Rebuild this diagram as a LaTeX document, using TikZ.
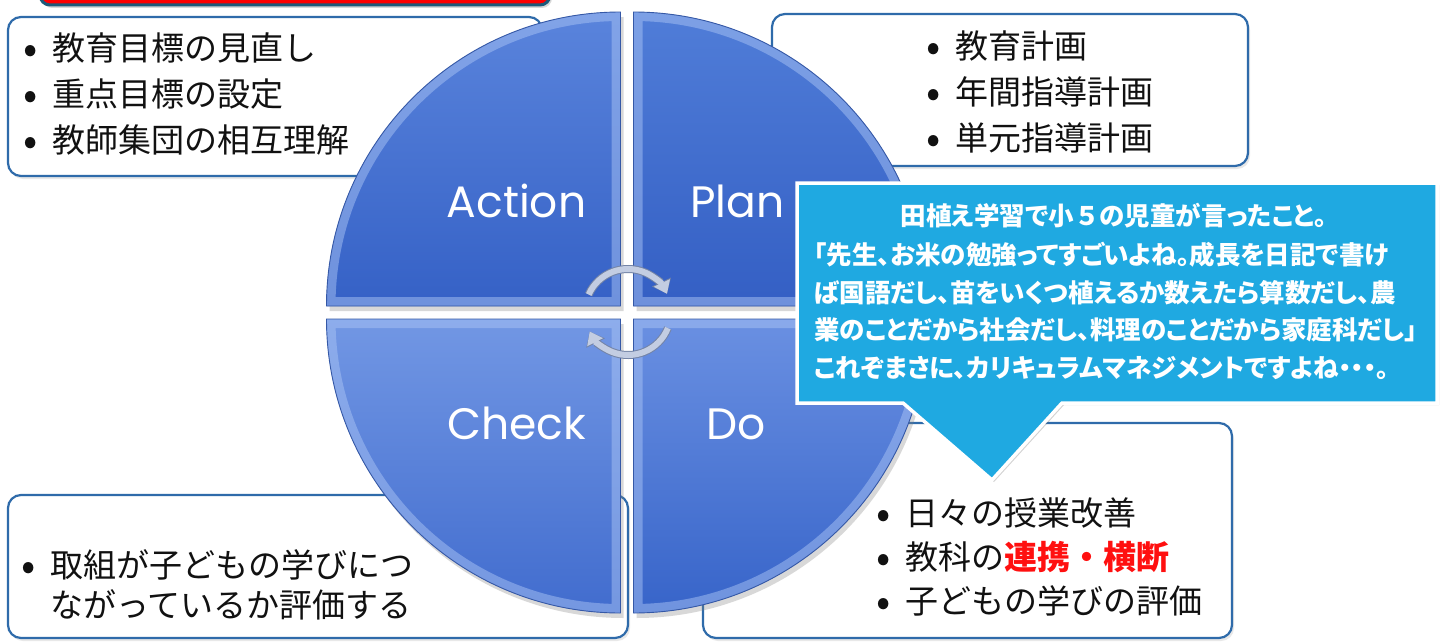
\documentclass[tikz,border=0pt]{standalone}
\usepackage{fontspec}
\newfontfamily\jp{Noto Sans CJK JP}
\newfontfamily\jpp[RawFeature=+palt]{Noto Sans CJK JP}
\newfontfamily\cg{Poppins}
\usetikzlibrary{shadows,arrows.meta}
\definecolor{boxline}{HTML}{2F6BAA}
\definecolor{redfill}{HTML}{FF0000}
\definecolor{redline}{HTML}{1E5A7A}
\definecolor{callfill}{HTML}{1FA9E1}
\definecolor{bevelc}{HTML}{A9C3F4}
\definecolor{qedgec}{HTML}{3558A6}
\definecolor{arrowfill}{HTML}{C3CDE2}
\definecolor{arrowedge}{HTML}{7484A6}
\definecolor{txt}{HTML}{111111}
\definecolor{hired}{HTML}{FF1010}
\definecolor{qAt}{HTML}{5A84DC}\definecolor{qAb}{HTML}{3561C6}
\definecolor{qPt}{HTML}{507DD8}\definecolor{qPb}{HTML}{345FC4}
\definecolor{qDt}{HTML}{6A90E2}\definecolor{qDb}{HTML}{3764C9}
\definecolor{qCt}{HTML}{7297E4}\definecolor{qCb}{HTML}{416CCE}
\newcommand\bul{\makebox[24pt][l]{\hspace*{-5pt}\raisebox{-3.5pt}{\fontsize{42}{42}\selectfont •}}}
\newcommand\quadrant[5]{%
  \path[qshadow, top color=#4, bottom color=#5] (#1) -- ++(#2) arc[start angle=#3, delta angle=90, radius=294] -- cycle;
  \begin{scope}
    \clip (#1) -- ++(#2) arc[start angle=#3, delta angle=90, radius=294] -- cycle;
    \draw[bevel] (#1) -- ++(#2) arc[start angle=#3, delta angle=90, radius=294] -- cycle;
  \end{scope}
  \draw[qedge] (#1) -- ++(#2) arc[start angle=#3, delta angle=90, radius=294] -- cycle;
}
\begin{document}
\begin{tikzpicture}[x=1pt,y=-1pt,
  infobox/.style={draw=boxline, line width=2.2pt, fill=white, rounded corners=13pt,
    drop shadow={opacity=0.18, shadow xshift=2pt, shadow yshift=-3pt}},
  redbox/.style={draw=redline, line width=3pt, fill=redfill, rounded corners=10pt,
    drop shadow={opacity=0.3, shadow xshift=2pt, shadow yshift=-3pt}},
  qshadow/.style={drop shadow={opacity=0.3, shadow xshift=3pt, shadow yshift=-5pt}},
  bevel/.style={line width=18pt, draw=bevelc, opacity=0.5},
  qedge/.style={line width=0.9pt, draw=qedgec},
  qlabel/.style={text=white, font=\cg\fontsize{44}{44}\selectfont, inner sep=0pt, anchor=base},
  boxtext/.style={text=txt, font=\jp\fontsize{33}{46}\selectfont, align=left, inner sep=0pt, anchor=base west},
  callout/.style={fill=callfill, draw=white, line width=3.5pt, line join=miter,
    drop shadow={opacity=0.35, shadow xshift=2pt, shadow yshift=-2pt}},
  calltext/.style={text=white, font=\jpp\bfseries\fontsize{25.5}{37.5}\selectfont, inner sep=0pt},
  cyc/.style={line width=6pt, draw=arrowfill, -{Triangle[length=12pt,width=17pt]},
    preaction={draw=arrowedge, line width=8pt, -{Triangle[length=13pt,width=20pt]}}}
]
\useasboundingbox (0,0) rectangle (1445,642);
\fill[white] (0,0) rectangle (1445,642);

% red title box (cut by the top edge)
\draw[redbox] (40,-30) rectangle (550,5);

% information boxes
\draw[infobox] (8,17) rectangle (542,176);
\draw[infobox] (772,14) rectangle (1248,166);
\draw[infobox] (8,495) rectangle (628,638);
\draw[infobox] (703,423) rectangle (1232,638);

% PDCA quadrants
\quadrant{620.5,306}{-294,0}{180}{qAt}{qAb}
\quadrant{633.5,306}{0,-294}{270}{qPt}{qPb}
\quadrant{633.5,319}{294,0}{0}{qDt}{qDb}
\quadrant{620.5,319}{0,294}{90}{qCt}{qCb}

% cycle arrows
\coordinate (cc) at (628,312);
\draw[cyc] (cc) ++(204:43) arc[start angle=204, end angle=335, radius=43];
\draw[cyc] (cc) ++(22:43) arc[start angle=22, end angle=153, radius=43];

% quadrant labels
\node[qlabel] (action) at (516.5,217) {Action};
\node[qlabel] (plan) at (737.5,217) {Plan};
\node[qlabel] (check) at (516.5,439) {Check};
\node[qlabel] (do) at (736.5,439) {Do};

% box texts (anchor = baseline of the last line)
\node[boxtext] (tA) at (28,152) {\bul 教育目標の見直し\\\bul 重点目標の設定\\\bul 教師集団の相互理解};
\node[boxtext] (tP) at (931,150) {\bul 教育計画\\\bul 年間指導計画\\\bul 単元指導計画};
\node[boxtext, font=\jp\fontsize{33}{40}\selectfont] (tC) at (26,617) {\bul 取組が子どもの学びにつ\\\hspace*{24pt}ながっているか評価する};
\node[boxtext, font=\jp\fontsize{33}{44}\selectfont] (tD) at (881,613) {\bul 日々の授業改善\\\bul 教科の{\color{hired}\bfseries 連携・横断}\\\bul 子どもの学びの評価};

% callout
\path[callout] (797,183) -- (1437,183) -- (1437,403) -- (1062,403) -- (992,480) -- (903,403) -- (797,403) -- cycle;
\node[calltext, anchor=base] (c1) at (1114,225) {田植え学習で小{\jp\bfseries ５}の児童が言ったこと。};
\node[calltext, anchor=base west, align=left] (c2) at (814,377) {「先生、お米の勉強ってすごいよね。成長を日記で書け\\ば国語だし、苗をいくつ植えるか数えたら算数だし、農\\業のことだから社会だし、料理のことだから家庭科だし」\\これぞまさに、カリキュラムマネジメントですよね・・・。};
\end{tikzpicture}
\end{document}
